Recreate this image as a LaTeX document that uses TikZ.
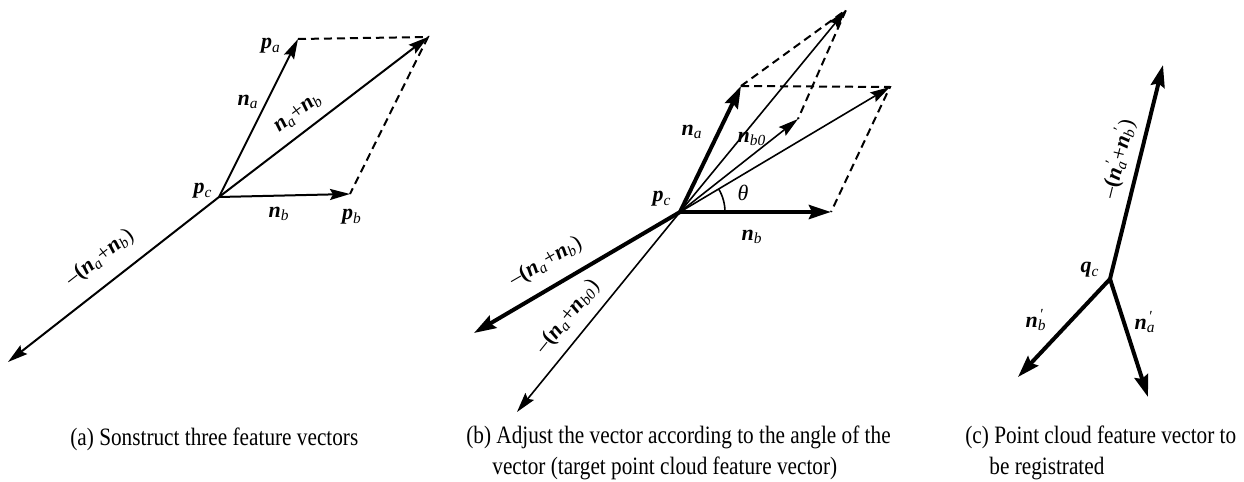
\documentclass[tikz,border=0pt]{standalone}
\usepackage{fontspec}
\setmainfont{Liberation Serif}
\newfontfamily\capfont[FakeStretch=0.85]{Liberation Serif}
\usetikzlibrary{arrows.meta}
% bold italic vector with subscript (and optional prime)
\newcommand{\vsym}[3][]{\textbf{\textit{#2}}\rlap{\textsuperscript{\,#1}}\textsubscript{\textit{#3}}}
\tikzset{
  vec/.style={-{Stealth[length=10pt, width=5.5pt, inset=1.5pt]}, line width=#1},
  vec/.default=1pt,
  bvec/.style={-{Stealth[length=11pt, width=7pt, inset=1.5pt]}, line width=2pt},
  guide/.style={dash pattern=on 4pt off 2.5pt, line width=1pt},
  lbl/.style={font=\fontsize{11}{13}\selectfont, inner sep=1pt},
  capt/.style={font=\capfont\fontsize{12.5}{15.5}\selectfont, anchor=north west,
               align=left, inner sep=0pt},
}

\begin{document}
\begin{tikzpicture}[x=0.5pt, y=-0.5pt]
\useasboundingbox (0,0) rectangle (1244,482);

% (a) three feature vectors
\coordinate (pcA) at (219,197);
\coordinate (paA) at (298,39);
\coordinate (pbA) at (350,194);
\coordinate (sA)  at (428,37);
\coordinate (mA)  at (8,362);
\draw[vec] (pcA) -- (paA);
\draw[vec] (pcA) -- (pbA);
\draw[vec] (pcA) -- (sA);
\draw[vec] (pcA) -- (mA);
\draw[guide] (paA) -- (sA) -- (pbA);
\node[lbl] (lpaA) at (271,46) {\vsym{p}{a}};
\node[lbl] (lnaA) at (248,102) {\vsym{n}{a}};
\node[lbl, rotate=37] (lsA) at (298,113) {\vsym{n}{a}+\vsym{n}{b}};
\node[lbl] (lpcA) at (203,191) {\vsym{p}{c}};
\node[lbl] (lnbA) at (279,214) {\vsym{n}{b}};
\node[lbl] (lpbA) at (352,217) {\vsym{p}{b}};
\node[lbl, rotate=38] (lmA) at (100,258) {–\textbf{(}\vsym{n}{a}+\vsym{n}{b})};

% (b) adjusted by the angle
\coordinate (pcB)  at (680,212);
\coordinate (naB)  at (741,86);
\coordinate (nbB)  at (831,212);
\coordinate (sB)   at (890,87);
\coordinate (nb0B) at (798,119);
\coordinate (s0B)  at (846,10);
\coordinate (mB)   at (474,333);
\coordinate (m0B)  at (517,412);
\draw[bvec] (pcB) -- (naB);
\draw[bvec] (pcB) -- (nbB);
\draw[bvec] (pcB) -- (mB);
\draw[vec=0.8pt] (pcB) -- (nb0B);
\draw[vec=0.8pt] (pcB) -- (sB);
\draw[vec=0.8pt] (pcB) -- (s0B);
\draw[vec=0.8pt] (pcB) -- (m0B);
\draw[guide] (naB) -- (sB) -- (nbB);
\draw[guide] (naB) -- (s0B) -- (nb0B);
\draw[line width=0.8pt] (pcB) ++(45,0) arc[start angle=0, end angle=-31, radius=45];
\node[lbl] (lnaB) at (692,132) {\vsym{n}{a}};
\node[lbl] (lnb0B) at (752,139) {\vsym{n}{b0}};
\node[lbl] (lpcB) at (662,199) {\vsym{p}{c}};
\node[lbl] (lthB) at (743,193) {\textit{θ}};
\node[lbl] (lnbB) at (752,237) {\vsym{n}{b}};
\node[lbl, rotate=30] (lmB) at (546,262) {–\textbf{(}\vsym{n}{a}+\vsym{n}{b})};
\node[lbl, rotate=51] (lm0B) at (568,317) {–\textbf{(}\vsym{n}{a}+\vsym{n}{b0})};

% (c) vectors to be registrated
\coordinate (qC)  at (1110,279);
\coordinate (uC)  at (1163,65);
\coordinate (nbC) at (1018,377);
\coordinate (naC) at (1148,397);
\draw[bvec] (qC) -- (uC);
\draw[bvec] (qC) -- (nbC);
\draw[bvec] (qC) -- (naC);
\node[lbl] (lqC) at (1090,270) {\vsym{q}{c}};
\node[lbl] (lnbC) at (1036,320) {\vsym[′]{n}{b}};
\node[lbl] (lnaC) at (1145,322) {\vsym[′]{n}{a}};
\node[lbl, rotate=76] (luC) at (1118,159) {–\textbf{(}\vsym[′]{n}{a}+\vsym[′]{n}{b})};

% captions
\node[capt] (capA) at (70,427) {(a) Sonstruct three feature vectors};
\node[capt] (capB) at (466,425) {(b) Adjust the vector according to the angle of the\\
  \hspace*{13pt}vector (target point cloud feature vector)};
\node[capt] (capC) at (965,425) {(c) Point cloud feature vector to\\
  \hspace*{12pt}be registrated};
\end{tikzpicture}
\end{document}
